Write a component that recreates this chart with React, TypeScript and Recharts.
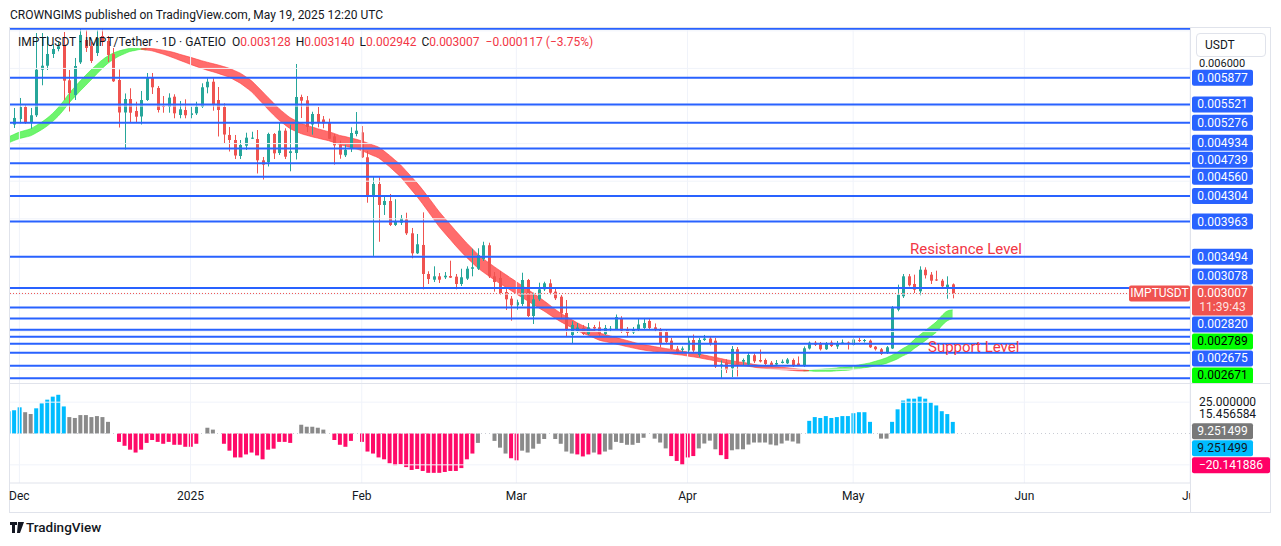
import React from 'react';
import {
  ComposedChart,
  Bar,
  Area,
  XAxis,
  YAxis,
  ReferenceLine,
  Cell,
} from 'recharts';

const FONT = 'Roboto, "Liberation Sans", Arial, sans-serif';
const TEXT = '#131722';
const UP = '#26a69a';
const DOWN = '#ef5350';
const LEVEL_BLUE = '#2962ff';
const GRID = '#f0f3fa';
const BORDER = '#e0e3eb';
const LEGEND_RED = '#f23645';

// day numbers count from 1 Dec 2024 (= 0), one bar per day
const FIRST_STUDY_DAY = -2; // 29 Nov 2024
const FIRST_CANDLE_DAY = -1; // 30 Nov 2024
const MONTH_DAYS = [0, 31, 62, 90, 121, 151, 182, 212];
const MONTH_NAMES = ['Dec', '2025', 'Feb', 'Mar', 'Apr', 'May', 'Jun', 'Jul'];

// IMPT/USDT daily candles, 30 Nov 2024 .. 19 May 2025, in millionths of USDT
const OPEN = [
  5254, 5327, 5487, 5281, 5377, 5983, 6036, 6192, 6258, 6302, 5842,
  5647, 6081, 6378, 6298, 6205, 6431, 6365, 6192, 5846, 5414,
  5593, 5434, 5361, 5580, 5873, 5740, 5500, 5491, 5624, 5381,
  5447, 5381, 5403, 5491, 5749, 5823, 5580, 5487, 5115, 5048,
  4835, 4972, 5065, 5061, 4778, 4755, 5128, 4875, 5172, 4875,
  4875, 5620, 5576, 5254, 5394, 5321, 5274, 5097, 4985, 4845,
  4942, 5128, 5150, 4818, 4303, 4463, 4184, 4237, 3918, 3948,
  3993, 3807, 3541, 3652, 3266, 3190, 3235, 3222, 3239, 3230,
  3133, 3204, 3336, 3336, 3465, 3648, 3235, 3213, 3026, 2938,
  2850, 2867, 3186, 2707, 2929, 3062, 3142, 3031, 2964, 2747,
  2455, 2508, 2548, 2468, 2561, 2557, 2468, 2521, 2534, 2668,
  2528, 2488, 2525, 2548, 2641, 2557, 2528, 2494, 2379, 2273,
  2256, 2248, 2388, 2189, 2388, 2407, 2379, 2042, 2089, 2012,
  2265, 2100, 2062, 2185, 2122, 2122, 2086, 2062, 2082, 2078,
  2122, 2076, 2042, 2275, 2352, 2345, 2265, 2355, 2302, 2348,
  2355, 2322, 2388, 2375, 2379, 2299, 2265, 2215, 2275, 2791,
  2970, 3235, 3133, 3036, 3323, 3257, 3193, 3177, 3070, 3128,
];
const HIGH = [
  5474, 5607, 5513, 5474, 6471, 6471, 6431, 6325, 6351, 6484, 5979,
  6139, 6524, 6511, 6351, 6511, 6520, 6431, 6272, 5986, 5667,
  5736, 5557, 5700, 5939, 5939, 5766, 5633, 5669, 5656, 5567,
  5589, 5491, 5557, 5802, 5869, 5869, 5753, 5536, 5221, 5115,
  5048, 5145, 5158, 5181, 4822, 5145, 5141, 5284, 5204, 5252,
  6059, 5651, 5633, 5424, 5487, 5367, 5332, 5128, 5039, 4985,
  5217, 5420, 5234, 4902, 4569, 4552, 4303, 4330, 4260, 4051,
  4081, 3878, 3798, 4086, 3302, 3368, 3279, 3292, 3443, 3266,
  3336, 3368, 3602, 3608, 3695, 3682, 3292, 3306, 3080, 2973,
  2924, 3283, 3200, 3017, 3150, 3163, 3195, 3076, 2987, 2920,
  2637, 2614, 2588, 2614, 2588, 2634, 2588, 2574, 2727, 2704,
  2561, 2561, 2667, 2681, 2667, 2608, 2548, 2521, 2415, 2308,
  2302, 2428, 2461, 2415, 2455, 2441, 2415, 2116, 2132, 2308,
  2295, 2142, 2215, 2209, 2262, 2142, 2109, 2122, 2129, 2149,
  2142, 2169, 2302, 2368, 2375, 2361, 2361, 2381, 2375, 2395,
  2368, 2421, 2415, 2401, 2395, 2308, 2282, 2308, 2840, 3124,
  3266, 3266, 3257, 3368, 3355, 3292, 3310, 3200, 3235, 3140,
];
const LOW = [
  5208, 5270, 5261, 5198, 5354, 5776, 5979, 6139, 6228, 5580, 5427,
  5580, 6059, 6219, 6072, 6165, 6298, 6085, 5820, 5214, 4922,
  5284, 5284, 5254, 5567, 5660, 5414, 5411, 5411, 5337, 5337,
  5337, 5337, 5381, 5474, 5669, 5438, 5095, 5008, 4895, 4795,
  4795, 4915, 5061, 4603, 4523, 4696, 4795, 4849, 4795, 4632,
  4789, 5341, 5154, 5119, 5217, 5204, 5061, 4720, 4799, 4822,
  4888, 5097, 4809, 4214, 3505, 3695, 4051, 3904, 3904, 3918,
  3785, 3475, 3532, 3062, 3133, 3159, 3146, 3199, 3213, 3062,
  3106, 3186, 3235, 3319, 3439, 3213, 3031, 2987, 2787, 2645,
  2791, 2840, 2694, 2601, 2907, 3040, 2991, 2920, 2681, 2441,
  2348, 2481, 2455, 2455, 2508, 2441, 2455, 2495, 2521, 2481,
  2441, 2468, 2508, 2521, 2521, 2495, 2291, 2335, 2256, 2202,
  2222, 2228, 2228, 2162, 2375, 2315, 2016, 1869, 1949, 1896,
  1903, 2056, 2042, 2082, 2089, 2056, 2029, 2056, 2076, 2069,
  2029, 2042, 2029, 2262, 2308, 2248, 2256, 2295, 2269, 2335,
  2262, 2308, 2361, 2355, 2282, 2248, 2189, 2202, 2269, 2770,
  2947, 3100, 3013, 2983, 3206, 3133, 3173, 3093, 2937, 2942,
];
const CLOSE = [
  5341, 5487, 5274, 5377, 5983, 6036, 6192, 6258, 6294, 5837, 5673,
  6032, 6445, 6272, 6099, 6405, 6351, 6179, 5829, 5414, 5593,
  5411, 5358, 5580, 5873, 5749, 5447, 5491, 5611, 5403, 5456,
  5377, 5403, 5491, 5749, 5823, 5514, 5447, 5121, 5048, 4842,
  4982, 5079, 5079, 4778, 4720, 5128, 4871, 5172, 4826, 4898,
  5620, 5571, 5221, 5394, 5274, 5270, 5065, 4977, 4853, 4919,
  5141, 5172, 4818, 4303, 4463, 4184, 4237, 3918, 3962, 4007,
  3807, 3541, 3661, 3266, 3199, 3235, 3190, 3243, 3217, 3133,
  3222, 3336, 3355, 3518, 3648, 3235, 3159, 3013, 2929, 2850,
  2890, 3186, 2707, 2929, 3062, 3142, 3017, 2943, 2743, 2521,
  2588, 2554, 2468, 2557, 2541, 2468, 2548, 2538, 2694, 2512,
  2481, 2525, 2594, 2614, 2548, 2530, 2348, 2361, 2269, 2222,
  2275, 2381, 2248, 2388, 2407, 2335, 2036, 2062, 1989, 2269,
  2062, 2122, 2189, 2105, 2102, 2069, 2033, 2082, 2100, 2129,
  2042, 2049, 2278, 2352, 2322, 2265, 2345, 2308, 2342, 2355,
  2335, 2395, 2375, 2388, 2291, 2265, 2202, 2291, 2811, 2991,
  3235, 3116, 3057, 3323, 3249, 3177, 3180, 3102, 3124, 3007,
];

// the two moving averages whose gap is filled as the ribbon, from 29 Nov 2024
const MA_FAST = [
  5088, 5122, 5153, 5175, 5197, 5239, 5284, 5337, 5401, 5477, 5567, 5667,
  5751, 5832, 5908, 5982, 6050, 6113, 6164, 6204, 6232, 6250,
  6265, 6265, 6262, 6245, 6234, 6213, 6191, 6165, 6138, 6109,
  6082, 6053, 6027, 6001, 5977, 5956, 5934, 5908, 5882, 5844,
  5803, 5749, 5692, 5617, 5539, 5458, 5383, 5313, 5255, 5201,
  5166, 5133, 5111, 5091, 5073, 5056, 5039, 5014, 4987, 4968,
  4949, 4930, 4906, 4875, 4842, 4811, 4756, 4694, 4627, 4560,
  4472, 4384, 4296, 4201, 4100, 3999, 3897, 3811, 3727, 3642,
  3562, 3486, 3417, 3348, 3291, 3240, 3189, 3140, 3094, 3048,
  3001, 2955, 2911, 2864, 2818, 2774, 2725, 2678, 2632, 2592,
  2554, 2514, 2479, 2451, 2419, 2386, 2368, 2352, 2335, 2318,
  2300, 2284, 2268, 2255, 2244, 2234, 2222, 2213, 2205, 2195,
  2187, 2175, 2164, 2153, 2138, 2125, 2110, 2096, 2080, 2069,
  2057, 2050, 2038, 2027, 2015, 2010, 2005, 1999, 1993, 1989,
  1983, 1977, 1975, 1981, 1993, 1998, 2004, 2008, 2016, 2025,
  2031, 2043, 2056, 2069, 2083, 2104, 2126, 2151, 2185, 2226,
  2275, 2317, 2390, 2451, 2510, 2569, 2626, 2708, 2772, 2789,
];
const MA_SLOW = [
  5008, 5040, 5067, 5085, 5103, 5141, 5184, 5233, 5293, 5363, 5447, 5541,
  5621, 5700, 5774, 5848, 5926, 5999, 6066, 6118, 6162, 6194,
  6225, 6239, 6254, 6267, 6264, 6255, 6243, 6229, 6212, 6189,
  6168, 6147, 6125, 6103, 6083, 6064, 6046, 6024, 6002, 5970,
  5937, 5889, 5838, 5767, 5693, 5616, 5543, 5467, 5405, 5347,
  5308, 5271, 5245, 5221, 5199, 5178, 5159, 5136, 5109, 5094,
  5075, 5058, 5036, 5009, 4982, 4955, 4904, 4846, 4783, 4720,
  4640, 4560, 4478, 4389, 4292, 4195, 4097, 4011, 3927, 3842,
  3760, 3678, 3605, 3530, 3469, 3416, 3363, 3312, 3262, 3212,
  3163, 3113, 3065, 3014, 2964, 2910, 2855, 2798, 2746, 2702,
  2660, 2618, 2581, 2549, 2517, 2484, 2462, 2442, 2423, 2402,
  2382, 2362, 2342, 2327, 2314, 2300, 2288, 2275, 2265, 2253,
  2241, 2229, 2216, 2203, 2188, 2173, 2158, 2142, 2126, 2113,
  2099, 2092, 2078, 2065, 2053, 2046, 2039, 2033, 2025, 2019,
  2011, 2003, 1995, 1979, 1971, 1972, 1972, 1972, 1978, 1983,
  1987, 1997, 2008, 2019, 2029, 2044, 2060, 2077, 2105, 2136,
  2177, 2211, 2272, 2323, 2376, 2433, 2488, 2574, 2642, 2671,
];

// lower pane histogram, from 29 Nov 2024
const MOMENTUM = [
  17.8, 18.6, 20.9, 17.0, 15.5, 20.1, 24.0, 27.0, 29.4, 30.9, 21.6, 13.1,
  12.4, 14.7, 14.7, 13.1, 13.9, 13.1, 9.3, 0, -6.7, -9.8,
  -12.9, -15.2, -12.9, -7.5, -5.2, -6.7, -8.2, -6.7, -9.0, -9.0,
  -10.6, -10.6, -8.2, 0, 4.6, 3.1, 0, -8.2, -13.7, -19.1,
  -19.1, -16.7, -15.2, -17.5, -20.6, -12.9, -12.1, -6.7, -6.7, -7.5,
  0, 7.0, 5.4, 5.4, 4.6, 3.1, 0, -5.2, -9.0, -10.6,
  -5.9, 0, -6.7, -14.4, -16.0, -19.1, -20.6, -23.7, -25.3, -24.5,
  -26.8, -29.1, -28.3, -29.9, -31.4, -31.4, -31.4, -30.7, -29.9, -29.9,
  -27.6, -20.6, -16.0, -7.5, 0, 0, -5.9, -11.3, -16.0, -19.8,
  -21.4, -13.7, -15.2, -12.1, -8.2, -4.4, 0, -4.4, -8.2, -14.4,
  -16.0, -16.7, -18.3, -16.7, -15.2, -16.7, -14.4, -12.9, -6.7, -7.5,
  -9.0, -9.0, -7.5, -3.4, 0, -4.1, -7.2, -11.9, -18.0, -21.9,
  -25.0, -19.1, -18.0, -11.9, -8.0, -5.7, -12.6, -17.3, -20.4, -13.4,
  -12.6, -12.6, -8.8, -7.2, -7.2, -7.2, -8.8, -9.5, -8.0, -5.7,
  -6.4, -8.0, 0, 10.1, 13.1, 12.4, 13.9, 12.4, 13.1, 13.9,
  13.9, 16.2, 17.0, 17.0, 9.3, 0, -4.1, -4.1, 9.3, 19.3,
  26.3, 27.8, 27.8, 29.4, 27.8, 24.7, 22.4, 17.8, 15.5, 9.251499,
];
// histogram colour state in runs: b = strong up, g = weak, r = strong down
const MOMENTUM_TONE_RUNS: [string, number][] = [
  ['b', 3], ['g', 2], ['b', 6], ['g', 9], ['r', 15], ['g', 4], ['r', 13],
  ['g', 7], ['r', 4], ['g', 1], ['r', 21], ['g', 6], ['r', 2], ['g', 10],
  ['r', 3], ['g', 1], ['r', 1], ['g', 12], ['r', 5], ['g', 4], ['r', 2],
  ['g', 14], ['b', 12], ['g', 3], ['b', 12],
];
const MOMENTUM_SIGNAL = 15.456584;
const MOMENTUM_LOWER = -20.141886;

// horizontal lines drawn on the chart (millionths of USDT)
const LEVELS = [
  6528, 5877, 5521, 5276, 4934, 4739, 4560, 4304, 3963, 3494, 3078,
  2820, 2675, 2525, 2432, 2339, 2219, 2046, 1879,
];
const LABELLED_LEVELS = [5877, 5521, 5276, 4934, 4739, 4560, 4304, 3963, 3494, 3078, 2820, 2675];
const PRICE_GRID = [2000, 2500, 3000, 3500, 4000, 4500, 5000, 5500, 6000, 6500];
const PRICE_AXIS_TICK = 6000;
const MOMENTUM_AXIS_TICK = 25;
const MOMENTUM_GRID = [25, -25];

const X_DOMAIN: [number, number] = [-1.7, 212];
const PRICE_DOMAIN: [number, number] = [0.0018161, 0.0065376];
const PRICE_PLOT_H = 355;
const MOM_DOMAIN: [number, number] = [-39.5, 39.5];
const MOM_PLOT_H = 99;
const AXIS_X = 1190;

const MOMENTUM_TONE = MOMENTUM_TONE_RUNS.flatMap(([t, n]) => Array(n).fill(t));
const TONE_COLOR: Record<string, string> = { b: '#00bcff', g: '#8a8a8a', r: '#ff0a68' };

const baseRows = MOMENTUM.map((m, i) => {
  const day = FIRST_STUDY_DAY + i;
  const k = day - FIRST_CANDLE_DAY;
  const has = k >= 0 && k < OPEN.length;
  return {
    day,
    o: has ? OPEN[k] / 1e6 : null,
    h: has ? HIGH[k] / 1e6 : null,
    l: has ? LOW[k] / 1e6 : null,
    c: has ? CLOSE[k] / 1e6 : null,
    range: has ? [LOW[k] / 1e6, HIGH[k] / 1e6] : null,
    fast: MA_FAST[i] / 1e6,
    slow: MA_SLOW[i] / 1e6,
    momentum: m,
    tone: MOMENTUM_TONE[i],
  };
});
const fastAbove = baseRows.map((r) => r.fast >= r.slow);
const ROWS = baseRows.map((r, i) => {
  const band = [Math.min(r.fast, r.slow), Math.max(r.fast, r.slow)];
  const nearUp = fastAbove[i] || fastAbove[i - 1] === true || fastAbove[i + 1] === true;
  const nearDown = !fastAbove[i] || fastAbove[i - 1] === false || fastAbove[i + 1] === false;
  return { ...r, bandUp: nearUp ? band : null, bandDown: nearDown ? band : null };
});

const fmtE6 = (v: number) => (v / 1e6).toFixed(6);
const lastIdx = CLOSE.length - 1;
const lastClose = CLOSE[lastIdx];
const change = lastClose - CLOSE[lastIdx - 1];
const changePct = (change / CLOSE[lastIdx - 1]) * 100;
const minus = (s: string) => s.replace('-', '\u2212');

type Tag = { pos: number; text: string; kind: string; sub?: string; wide?: boolean; shift?: number; size?: number };

// price scale tags, pushed apart the way the price scale does it
const priceToPx = (p: number) => ((PRICE_DOMAIN[1] - p) / (PRICE_DOMAIN[1] - PRICE_DOMAIN[0])) * PRICE_PLOT_H;
const pxToPrice = (y: number) => PRICE_DOMAIN[1] - (y / PRICE_PLOT_H) * (PRICE_DOMAIN[1] - PRICE_DOMAIN[0]);

const PRICE_TAGS: Tag[] = (() => {
  const src = [
    ...LABELLED_LEVELS.map((v) => ({ v, kind: 'level' })),
    { v: MA_FAST[MA_FAST.length - 1], kind: 'ma' },
    { v: MA_SLOW[MA_SLOW.length - 1], kind: 'ma' },
  ];
  const last = lastClose / 1e6;
  const lastY = priceToPx(last);
  // the plain scale tick sits just above the first tag box
  const out: Tag[] = [{ pos: PRICE_AXIS_TICK / 1e6, text: fmtE6(PRICE_AXIS_TICK), kind: 'plain', shift: -5, size: 11 }];
  let limit = lastY - 8;
  src.filter((t) => t.v / 1e6 > last).sort((a, b) => a.v - b.v).forEach((t) => {
    const cy = Math.min(priceToPx(t.v / 1e6), limit - 9);
    limit = cy - 8;
    out.push({ pos: pxToPrice(cy), text: fmtE6(t.v), kind: t.kind });
  });
  limit = lastY + 22;
  src.filter((t) => t.v / 1e6 < last).sort((a, b) => b.v - a.v).forEach((t) => {
    const cy = Math.max(priceToPx(t.v / 1e6), limit + 9);
    limit = cy + 8;
    out.push({ pos: pxToPrice(cy), text: fmtE6(t.v), kind: t.kind });
  });
  out.push({ pos: last, text: fmtE6(lastClose), kind: 'last', sub: '11:39:43' });
  return out;
})();

const momToPx = (v: number) => ((MOM_DOMAIN[1] - v) / (MOM_DOMAIN[1] - MOM_DOMAIN[0])) * MOM_PLOT_H;
const pxToMom = (y: number) => MOM_DOMAIN[1] - (y / MOM_PLOT_H) * (MOM_DOMAIN[1] - MOM_DOMAIN[0]);
const lastMomentum = MOMENTUM[MOMENTUM.length - 1];

const MOM_TAGS: Tag[] = (() => {
  const src = [
    { v: MOMENTUM_SIGNAL, kind: 'plain' },
    { v: lastMomentum, kind: 'gray' },
    { v: lastMomentum, kind: 'blue' },
    { v: MOMENTUM_LOWER, kind: 'red' },
  ];
  const out: Tag[] = [{ pos: MOMENTUM_AXIS_TICK, text: MOMENTUM_AXIS_TICK.toFixed(6), kind: 'plain' }];
  let prev = -Infinity;
  src.forEach((t) => {
    const cy = Math.max(momToPx(t.v), prev + 17);
    prev = cy;
    out.push({ pos: pxToMom(cy), text: minus(t.v.toFixed(6)), kind: t.kind, wide: t.v < 0 });
  });
  return out;
})();

const TAG_STYLE: Record<string, { bg: string; fg: string }> = {
  level: { bg: LEVEL_BLUE, fg: '#ffffff' },
  ma: { bg: '#00ff00', fg: '#000000' },
  last: { bg: DOWN, fg: '#ffffff' },
  gray: { bg: '#787878', fg: '#ffffff' },
  blue: { bg: '#00bcff', fg: TEXT },
  red: { bg: '#ff0066', fg: '#ffffff' },
};

const drawTag = (tags: Tag[]) => (props: any) => {
  const value = props?.payload?.value;
  const tag = tags.find((t) => Math.abs(t.pos - value) < 1e-9);
  const y = props.y;
  if (!tag || !Number.isFinite(y)) return <g />;
  if (tag.kind === 'plain') {
    return (
      <text x={AXIS_X + 9} y={y + (tag.shift ?? 0)} dominantBaseline="central" fontSize={tag.size ?? 12} fontFamily={FONT} fill={TEXT}>
        {tag.text}
      </text>
    );
  }
  const st = TAG_STYLE[tag.kind];
  const w = tag.wide ? 78 : 61;
  const h = tag.sub ? 30 : 16;
  return (
    <g>
      {tag.kind === 'last' && (
        <g>
          <rect x={AXIS_X - 61} y={y - 8} width={61} height={16} rx={2} fill={DOWN} />
          <text x={AXIS_X - 30.5} y={y} textAnchor="middle" dominantBaseline="central" fontSize={12} fontFamily={FONT} fill="#ffffff">
            IMPTUSDT
          </text>
        </g>
      )}
      <rect x={AXIS_X + 2} y={y - 8} width={w} height={h} rx={2} fill={st.bg} />
      <text x={AXIS_X + 2 + w / 2} y={y} textAnchor="middle" dominantBaseline="central" fontSize={12} fontFamily={FONT} fill={st.fg}>
        {tag.text}
      </text>
      {tag.sub && (
        <text x={AXIS_X + 2 + w / 2} y={y + 14} textAnchor="middle" dominantBaseline="central" fontSize={12} fontFamily={FONT} fill="#ffffff" fillOpacity={0.85}>
          {tag.sub}
        </text>
      )}
    </g>
  );
};

const renderCandle = (props: any) => {
  const { x, y, width, height, payload } = props;
  if (!payload || payload.o == null || !Number.isFinite(y) || !Number.isFinite(height)) return <g />;
  const { o, h, l, c } = payload;
  const k = h > l ? height / (h - l) : 0;
  const yOpen = y + (h - o) * k;
  const yClose = y + (h - c) * k;
  const color = c >= o ? UP : DOWN;
  const cx = Math.round(x + width / 2);
  const top = Math.min(yOpen, yClose);
  return (
    <g>
      <rect x={cx} y={y} width={1} height={Math.max(1, height)} fill={color} />
      <rect x={cx - 1} y={top} width={3} height={Math.max(1, Math.abs(yClose - yOpen))} fill={color} />
    </g>
  );
};

const PriceChart = () => (
  <ComposedChart width={1281} height={PRICE_PLOT_H} data={ROWS} margin={{ top: 0, right: 10, bottom: 0, left: 10 }}>
    <XAxis type="number" dataKey="day" domain={X_DOMAIN} allowDataOverflow hide />
    <YAxis
      orientation="right"
      type="number"
      domain={PRICE_DOMAIN}
      allowDataOverflow
      width={81}
      ticks={PRICE_TAGS.map((t) => t.pos)}
      interval={0}
      tick={drawTag(PRICE_TAGS)}
      axisLine={false}
      tickLine={false}
    />
    {PRICE_GRID.map((p) => (
      <ReferenceLine key={`g${p}`} y={p / 1e6} stroke={GRID} strokeWidth={1} />
    ))}
    {MONTH_DAYS.map((d) => (
      <ReferenceLine key={`m${d}`} x={d} stroke={GRID} strokeWidth={1} />
    ))}
    <Bar dataKey="range" barSize={4} shape={renderCandle} isAnimationActive={false} />
    <Area type="monotone" dataKey="bandUp" stroke="#3cf03c" strokeOpacity={0.6} strokeWidth={1} fill="#3cf03c" fillOpacity={0.75} connectNulls={false} dot={false} activeDot={false} isAnimationActive={false} />
    <Area type="monotone" dataKey="bandDown" stroke="#ff3b3b" strokeOpacity={0.6} strokeWidth={1} fill="#ff3b3b" fillOpacity={0.75} connectNulls={false} dot={false} activeDot={false} isAnimationActive={false} />
    {LEVELS.map((p) => (
      <ReferenceLine key={`l${p}`} y={p / 1e6} stroke={LEVEL_BLUE} strokeWidth={2} />
    ))}
    <ReferenceLine y={lastClose / 1e6} stroke={DOWN} strokeWidth={1} strokeDasharray="1 2" />
  </ComposedChart>
);

const MomentumChart = () => (
  <ComposedChart width={1281} height={130} data={ROWS} margin={{ top: 1, right: 10, bottom: 0, left: 10 }}>
    <XAxis
      type="number"
      dataKey="day"
      domain={X_DOMAIN}
      allowDataOverflow
      ticks={MONTH_DAYS}
      interval={0}
      height={30}
      tickLine={false}
      axisLine={{ stroke: BORDER }}
      tick={{ fontSize: 12, fill: TEXT, fontFamily: FONT }}
      tickFormatter={(v: number) => MONTH_NAMES[MONTH_DAYS.indexOf(v)] ?? ''}
    />
    <YAxis
      orientation="right"
      type="number"
      domain={MOM_DOMAIN}
      allowDataOverflow
      width={81}
      ticks={MOM_TAGS.map((t) => t.pos)}
      interval={0}
      tick={drawTag(MOM_TAGS)}
      axisLine={false}
      tickLine={false}
    />
    {MONTH_DAYS.map((d) => (
      <ReferenceLine key={`m${d}`} x={d} stroke={GRID} strokeWidth={1} />
    ))}
    {MOMENTUM_GRID.map((v) => (
      <ReferenceLine key={`h${v}`} y={v} stroke={GRID} strokeWidth={1} />
    ))}
    <ReferenceLine y={0} stroke="#c9ccd4" strokeDasharray="1 3" />
    <Bar dataKey="momentum" barSize={4} isAnimationActive={false}>
      {ROWS.map((r, i) => (
        <Cell key={i} fill={TONE_COLOR[r.tone]} />
      ))}
    </Bar>
  </ComposedChart>
);

const abs = (style: React.CSSProperties): React.CSSProperties => ({ position: 'absolute', ...style });

export default function App() {
  const lastO = OPEN[lastIdx];
  const lastH = HIGH[lastIdx];
  const lastL = LOW[lastIdx];
  return (
    <div style={abs({ left: 0, top: 0, width: 1281, height: 546, background: '#ffffff', overflow: 'hidden', fontFamily: FONT, color: TEXT })}>
      <div style={abs({ left: 10, top: 7, fontSize: 12, lineHeight: '16px', whiteSpace: 'nowrap' })}>
        CROWNGIMS published on TradingView.com, May 19, 2025 12:20 UTC
      </div>
      <div style={abs({ left: 9, top: 27, width: 1262, height: 486, border: `1px solid ${BORDER}`, boxSizing: 'border-box' })} />
      <div style={abs({ left: 0, top: 28 })}>
        <PriceChart />
      </div>
      <div style={abs({ left: 10, top: 383, width: 1261, height: 1, background: BORDER })} />
      <div style={abs({ left: 0, top: 383 })}>
        <MomentumChart />
      </div>
      <div style={abs({ left: AXIS_X, top: 28, width: 1, height: 484, background: BORDER })} />
      <div style={abs({ left: AXIS_X + 1, top: 484, width: 79, height: 28, background: '#ffffff' })} />
      <div style={abs({ left: 1196, top: 33, width: 70, height: 24, border: `1px solid ${BORDER}`, borderRadius: 4, boxSizing: 'border-box', fontSize: 12, lineHeight: '22px', paddingLeft: 8, background: '#ffffff' })}>
        USDT
      </div>
      <div style={abs({ left: 18, top: 34, fontSize: 12, lineHeight: '16px', whiteSpace: 'nowrap' })}>
        IMPTUSDT · IMPT/Tether · 1D · GATEIO
        <span style={{ marginLeft: 6 }}>O</span>
        <span style={{ color: LEGEND_RED }}>{fmtE6(lastO)}</span>
        <span style={{ marginLeft: 5 }}>H</span>
        <span style={{ color: LEGEND_RED }}>{fmtE6(lastH)}</span>
        <span style={{ marginLeft: 5 }}>L</span>
        <span style={{ color: LEGEND_RED }}>{fmtE6(lastL)}</span>
        <span style={{ marginLeft: 5 }}>C</span>
        <span style={{ color: LEGEND_RED }}>{fmtE6(lastClose)}</span>
        <span style={{ color: LEGEND_RED, marginLeft: 6 }}>
          {minus(fmtE6(change))} ({minus(changePct.toFixed(2))}%)
        </span>
      </div>
      <div style={abs({ left: 910, top: 240, fontSize: 15, lineHeight: '18px', color: LEGEND_RED, whiteSpace: 'nowrap' })}>
        Resistance Level
      </div>
      <div style={abs({ left: 928, top: 338, fontSize: 15, lineHeight: '18px', color: LEGEND_RED, whiteSpace: 'nowrap' })}>
        Support Level
      </div>
      <svg width={14} height={11} style={abs({ left: 10, top: 522 })}>
        <path d="M0 0h7v3H5v8H2V3H0z M8 0h6l-4 11H7z" fill={TEXT} />
      </svg>
      <div style={abs({ left: 26, top: 519, fontSize: 13.5, lineHeight: '16px', fontWeight: 500, whiteSpace: 'nowrap' })}>
        TradingView
      </div>
    </div>
  );
}
